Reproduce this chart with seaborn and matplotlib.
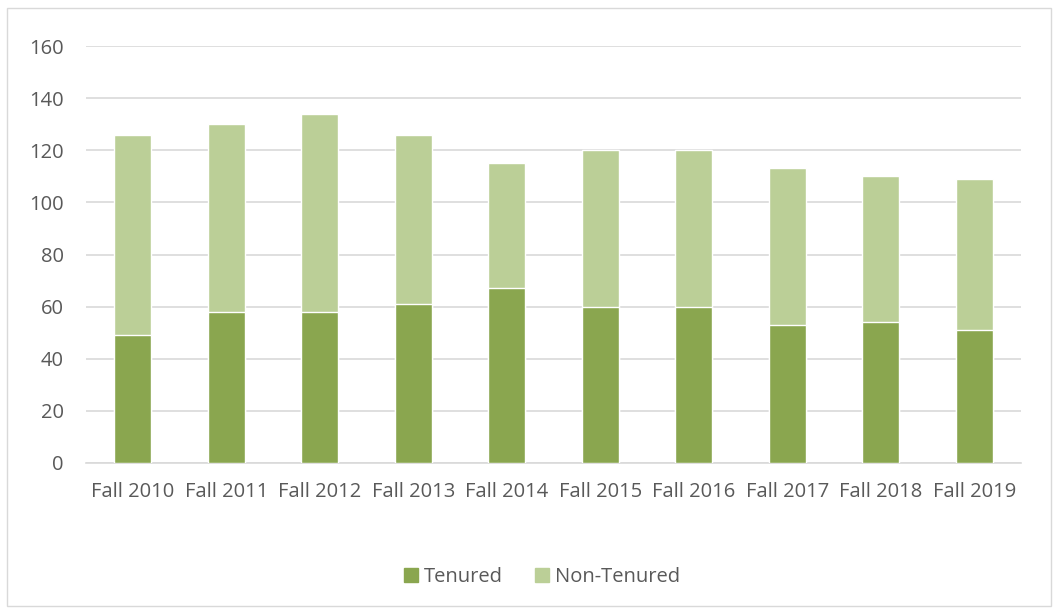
import matplotlib
matplotlib.use("Agg")
import matplotlib.pyplot as plt
import matplotlib.patches as mpatches
import seaborn as sns

# Dados
anos = ["Fall 2010", "Fall 2011", "Fall 2012", "Fall 2013", "Fall 2014",
        "Fall 2015", "Fall 2016", "Fall 2017", "Fall 2018", "Fall 2019"]
tenured = [49, 58, 58, 61, 67, 60, 60, 53, 54, 51]
non_tenured = [77, 72, 76, 65, 48, 60, 60, 60, 56, 58]

cor_tenured = "#8aa64f"
cor_non_tenured = "#bbcf97"
cor_texto = "#595959"

sns.set_style("white")
plt.rcParams['font.family'] = ['Open Sans', 'DejaVu Sans']

totais = [t + n for t, n in zip(tenured, non_tenured)]

fig = plt.figure(figsize=(10.58, 6.14), dpi=100)
ax = fig.add_axes([86 / 1058, 1 - 463 / 614, (1021 - 86) / 1058, (463 - 46) / 614])

# Barras empilhadas: total (claro) por baixo, tenured (escuro) por cima
sns.barplot(x=anos, y=totais, color=cor_non_tenured, width=0.4, saturation=1, ax=ax, zorder=2)
sns.barplot(x=anos, y=tenured, color=cor_tenured, width=0.4, saturation=1, ax=ax, zorder=3)

ax.set_ylim(0, 160)
ax.set_yticks(range(0, 161, 20))
ax.set_xlim(-0.5, 9.5)
ax.yaxis.grid(True, color="#d9d9d9", linewidth=1.2, zorder=0)
ax.set_axisbelow(True)
for lado in ["top", "right", "left"]:
    ax.spines[lado].set_visible(False)
ax.spines["bottom"].set_color("#d9d9d9")
ax.spines["bottom"].set_linewidth(1.2)
ax.tick_params(axis="y", length=0, pad=16, labelsize=14.5, labelcolor=cor_texto)
ax.tick_params(axis="x", length=0, pad=14, labelsize=14.5, labelcolor=cor_texto)
ax.set_xlabel("")
ax.set_ylabel("")

# Legenda abaixo do gráfico
handles = [mpatches.Patch(color=cor_tenured, label="Tenured"),
           mpatches.Patch(color=cor_non_tenured, label="Non-Tenured")]
fig.legend(handles=handles, loc="center", bbox_to_anchor=(542 / 1058, 1 - 577 / 614),
           ncol=2, frameon=False, fontsize=14.5, labelcolor=cor_texto,
           handlelength=0.7, handleheight=0.7, handletextpad=0.3, columnspacing=1.6)

# Borda do gráfico
fig.patches.append(mpatches.Rectangle((7 / 1058, 1 - 606 / 614), 1044 / 1058, 598 / 614,
                                      transform=fig.transFigure, fill=False,
                                      edgecolor="#d9d9d9", linewidth=1))

fig.savefig("out.png", dpi=100)
